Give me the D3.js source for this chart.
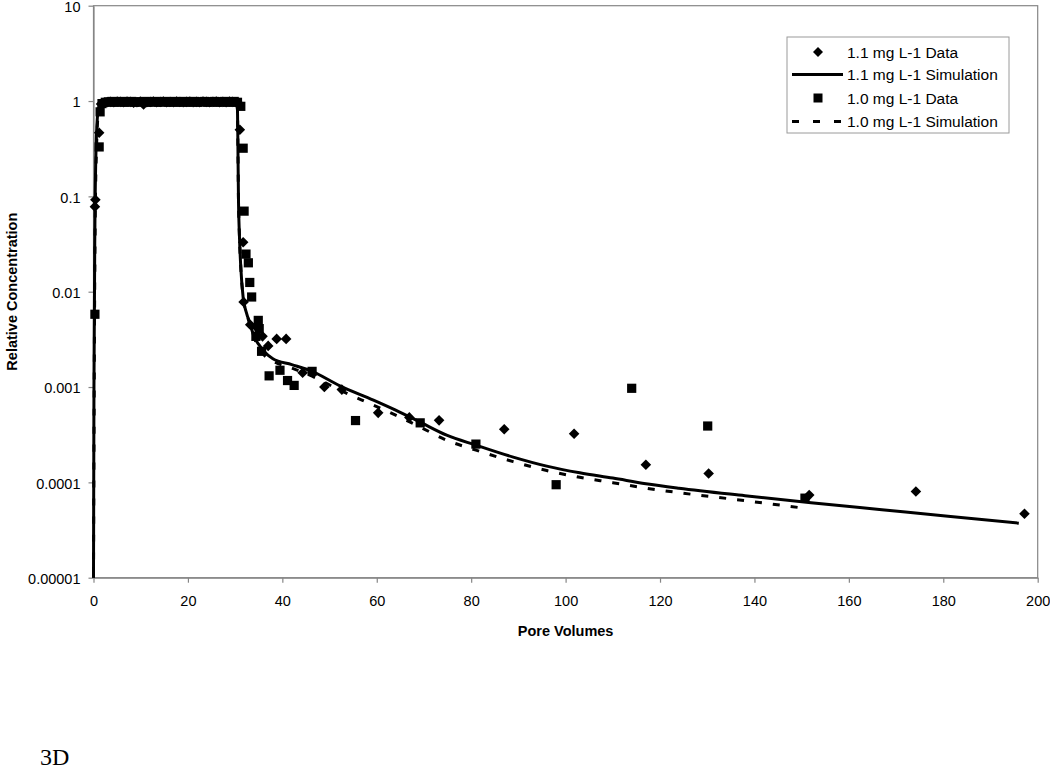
<!DOCTYPE html>
<html>
<head>
<meta charset="utf-8">
<script src="https://cdn.jsdelivr.net/npm/d3@7"></script>
<style>
  html, body { margin: 0; padding: 0; background: #fff; }
  svg { display: block; }
</style>
</head>
<body>
<svg id="chart" width="1050" height="771"></svg>
<script>
// ---------- DATA ----------
const xTickValues = [0, 20, 40, 60, 80, 100, 120, 140, 160, 180, 200];
const yTickValues = [10, 1, 0.1, 0.01, 0.001, 0.0001, 0.00001];
const yTickLabels = ["10", "1", "0.1", "0.01", "0.001", "0.0001", "0.00001"];

const seriesNames = ["1.1 mg L-1 Data", "1.1 mg L-1 Simulation", "1.0 mg L-1 Data", "1.0 mg L-1 Simulation"];

// 1.1 mg L-1 Data (diamonds): [pore volumes, relative concentration]
const data11 = [
  [0.3,0.078],[0.4,0.092],[1.2,0.465],[1.6,0.93],[2.2,0.96],[2.9,0.97],[3.6,0.98],[4.3,0.97],
  [5.0,0.99],[5.7,0.98],[6.4,0.97],[7.1,0.99],[7.8,0.98],[8.5,0.96],[9.2,0.97],[9.9,0.99],
  [10.6,0.92],[11.3,0.97],[12.0,0.98],[12.7,0.99],[13.4,0.97],[14.1,0.98],[14.8,0.99],[15.5,0.97],
  [16.2,0.98],[16.9,0.97],[17.6,0.99],[18.3,0.98],[19.0,0.97],[19.7,0.98],[20.4,0.99],[21.1,0.97],
  [21.8,0.98],[22.5,0.97],[23.2,0.99],[23.9,0.98],[24.6,0.97],[25.3,0.98],[26.0,0.99],[26.7,0.97],
  [27.4,0.98],[28.1,0.97],[28.8,0.99],[29.5,0.98],[30.2,0.97],[30.6,0.96],[31.0,0.50],[31.7,0.033],
  [31.8,0.0078],[33.2,0.0045],[34.6,0.0042],[35.8,0.0034],[37.0,0.0027],[38.8,0.0032],[40.8,0.0032],
  [44.3,0.00141],[48.9,0.0010],[52.6,0.00094],[60.3,0.000536],[66.9,0.00048],[73.2,0.000447],
  [87.0,0.000361],[101.8,0.000323],[117.0,0.000153],[130.3,0.000124],[151.6,0.0000735],
  [174.2,0.0000803],[197.2,0.0000468]
];

// 1.0 mg L-1 Data (squares)
const data10 = [
  [0.3,0.0058],[1.2,0.33],[1.4,0.77],[1.8,0.94],[2.5,0.97],[3.2,0.98],[3.9,0.99],[4.6,0.97],
  [5.3,0.98],[6.0,0.99],[6.7,0.97],[7.4,0.98],[8.1,0.99],[8.8,0.97],[9.5,0.98],[10.2,0.98],
  [10.9,0.99],[11.6,0.97],[12.3,0.98],[13.0,0.99],[13.7,0.97],[14.4,0.98],[15.1,0.99],[15.8,0.97],
  [16.5,0.98],[17.2,0.99],[17.9,0.97],[18.6,0.98],[19.3,0.99],[20.0,0.97],[20.7,0.98],[21.4,0.99],
  [22.1,0.97],[22.8,0.98],[23.5,0.99],[24.2,0.97],[24.9,0.98],[25.6,0.99],[26.3,0.97],[27.0,0.98],
  [27.7,0.99],[28.4,0.97],[29.1,0.98],[29.8,0.99],[30.5,0.97],[31.2,0.88],[31.7,0.32],[31.9,0.070],
  [32.3,0.0248],[32.8,0.0201],[33.1,0.0125],[33.5,0.0088],[34.4,0.0034],[34.9,0.0050],[35.1,0.0041],
  [35.6,0.00237],[37.2,0.00131],[39.5,0.0015],[41.1,0.00117],[42.5,0.00104],[46.3,0.00146],
  [55.5,0.000445],[69.2,0.000421],[81.0,0.000252],[98.0,0.0000945],[114.0,0.00097],
  [130.1,0.00039],[150.7,0.0000683]
];

// 1.1 mg L-1 Simulation (solid line)
const sim11 = [
  [0,0.00001],[0.1,0.001],[0.3,0.05],[0.6,0.4],[1.0,0.8],[1.5,0.93],[2.5,0.98],[4,1.0],
  [30.3,1.0],[30.5,0.8],[30.6,0.3],[30.7,0.1],[30.9,0.04],[31.2,0.018],[31.7,0.0087],
  [32.4,0.0060],[33.1,0.0047],[34.0,0.0034],[35.0,0.0028],[36.0,0.0024],[38.0,0.00198],
  [42.0,0.00172],[46.3,0.00146],[52.2,0.00103],[59.3,0.00073],[64.0,0.000573],[69.2,0.000428],
  [74.8,0.000313],[81.0,0.000246],[88.9,0.000184],[96.0,0.000148],[103.0,0.000126],
  [110.0,0.000111],[117.0,0.0000969],[124.0,0.0000869],[138.0,0.0000725],[152.0,0.0000612],
  [167.0,0.0000517],[181.0,0.0000442],[196.0,0.0000373]
];

// 1.0 mg L-1 Simulation (dashed line)
const sim10 = [
  [0,0.00001],[0.15,0.001],[0.35,0.05],[0.7,0.4],[1.1,0.8],[1.6,0.93],[2.6,0.98],[4,1.0],
  [30.3,1.0],[30.5,0.8],[30.6,0.3],[30.7,0.1],[30.9,0.04],[31.2,0.018],[31.7,0.0087],
  [32.4,0.0060],[33.1,0.0046],[34.0,0.0033],[35.0,0.0026],[36.0,0.0022],[38.0,0.00187],
  [42.0,0.00158],[46.3,0.0013],[52.2,0.000928],[59.3,0.000646],[64.0,0.000507],[69.2,0.00038],
  [74.8,0.000277],[81.0,0.000218],[88.9,0.000165],[96.0,0.000133],[103.0,0.000113],
  [110.0,0.0000993],[117.0,0.0000869],[124.0,0.000078],[138.0,0.0000643],[149.6,0.0000543]
];

// ---------- LAYOUT ----------
const svg = d3.select("#chart");
const pLeft = 93.5, pRight = 1037.7, pTop = 5.7, pBottom = 577.7;
const FONT = "'Liberation Sans', Arial, Helvetica, sans-serif";
const frameColor = "#868686";

const x = d3.scaleLinear().domain([0, 200]).range([pLeft, pRight]);
const y = d3.scaleLog().domain([0.00001, 10]).range([pBottom, pTop]);

// frame
svg.append("rect")
  .attr("x", pLeft).attr("y", pTop)
  .attr("width", pRight - pLeft).attr("height", pBottom - pTop)
  .attr("fill", "none").attr("stroke", frameColor).attr("stroke-width", 1.2);

// y axis
const yAxis = d3.axisLeft(y)
  .tickValues(yTickValues)
  .tickFormat(d => yTickLabels[yTickValues.indexOf(d)])
  .tickSizeInner(5).tickSizeOuter(0).tickPadding(8);
const gy = svg.append("g").attr("transform", `translate(${pLeft},0)`).call(yAxis);
gy.select(".domain").attr("stroke", frameColor).attr("stroke-width", 1.2);
gy.selectAll(".tick line").attr("stroke", frameColor).attr("stroke-width", 1.2);
gy.selectAll(".tick text").attr("fill", "#000").attr("dy", "0.4em")
  .style("font-family", FONT).style("font-size", "14.5px");

// x axis
const xAxis = d3.axisBottom(x)
  .tickValues(xTickValues)
  .tickFormat(d3.format("d"))
  .tickSizeInner(5).tickSizeOuter(0).tickPadding(13.5);
const gx = svg.append("g").attr("transform", `translate(0,${pBottom})`).call(xAxis);
gx.select(".domain").attr("stroke", frameColor).attr("stroke-width", 1.2);
gx.selectAll(".tick line").attr("stroke", frameColor).attr("stroke-width", 1.2);
gx.selectAll(".tick text").attr("fill", "#000").style("font-family", FONT).style("font-size", "14.5px");

// axis titles
svg.append("text")
  .attr("x", (pLeft + pRight) / 2).attr("y", 636)
  .attr("text-anchor", "middle")
  .style("font-family", FONT).style("font-size", "14.5px").style("font-weight", "bold")
  .text("Pore Volumes");
svg.append("text")
  .attr("transform", `translate(12,${(pTop + pBottom) / 2}) rotate(-90)`)
  .attr("text-anchor", "middle")
  .attr("dominant-baseline", "central")
  .style("font-family", FONT).style("font-size", "14.5px").style("font-weight", "bold")
  .text("Relative Concentration");

// clip
svg.append("clipPath").attr("id", "plotclip")
  .append("rect").attr("x", pLeft - 6).attr("y", pTop).attr("width", pRight - pLeft + 12).attr("height", pBottom - pTop + 1);

const plot = svg.append("g").attr("clip-path", "url(#plotclip)");

const line = d3.line().x(d => x(d[0])).y(d => y(d[1])).curve(d3.curveMonotoneX);

plot.append("path").datum(sim10)
  .attr("d", line).attr("fill", "none").attr("stroke", "#000")
  .attr("stroke-width", 3).attr("stroke-dasharray", "7,11");
plot.append("path").datum(sim11)
  .attr("d", line).attr("fill", "none").attr("stroke", "#000")
  .attr("stroke-width", 3);

const diamond = s => `M0,${-s}L${s},0L0,${s}L${-s},0Z`;

plot.selectAll("path.dia").data(data11).join("path")
  .attr("class", "dia")
  .attr("transform", d => `translate(${x(d[0])},${y(d[1])})`)
  .attr("d", diamond(5.3)).attr("fill", "#000");

const sq = 9.2;
plot.selectAll("rect.sq").data(data10).join("rect")
  .attr("class", "sq")
  .attr("x", d => x(d[0]) - sq / 2).attr("y", d => y(d[1]) - sq / 2)
  .attr("width", sq).attr("height", sq).attr("fill", "#000");

// legend
const lg = svg.append("g");
lg.append("rect").attr("x", 787).attr("y", 37).attr("width", 222).attr("height", 96)
  .attr("fill", "#fff").attr("stroke", "#9a9a9a").attr("stroke-width", 1);
const rowsY = [52, 74.5, 98, 121.5];
const symX = 818;
lg.append("path").attr("transform", `translate(${symX},${rowsY[0]})`).attr("d", diamond(5)).attr("fill", "#000");
lg.append("line").attr("x1", 792).attr("x2", 843).attr("y1", rowsY[1]).attr("y2", rowsY[1])
  .attr("stroke", "#000").attr("stroke-width", 3);
lg.append("rect").attr("x", symX - 4.5).attr("y", rowsY[2] - 4.5).attr("width", 9).attr("height", 9).attr("fill", "#000");
lg.append("line").attr("x1", 792).attr("x2", 841).attr("y1", rowsY[3]).attr("y2", rowsY[3])
  .attr("stroke", "#000").attr("stroke-width", 3).attr("stroke-dasharray", "7,14");
seriesNames.forEach((n, i) => {
  lg.append("text").attr("x", 847).attr("y", rowsY[i])
    .attr("dominant-baseline", "central")
    .style("font-family", FONT).style("font-size", "15.5px")
    .text(n);
});

// caption
svg.append("text").attr("x", 40).attr("y", 765)
  .style("font-family", "'Liberation Serif', 'Times New Roman', serif").style("font-size", "24px")
  .text("3D");
</script>
</body>
</html>
